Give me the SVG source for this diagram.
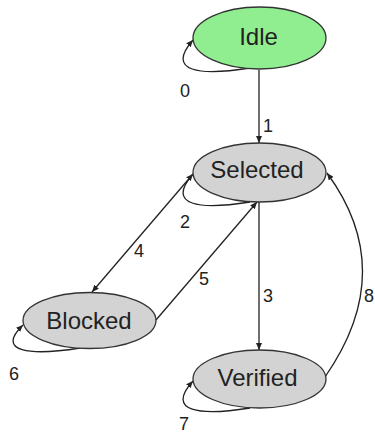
<svg xmlns="http://www.w3.org/2000/svg" width="375" height="434" viewBox="0 0 375 434">
<defs>
<style>
.node ellipse{stroke:#333;stroke-width:1.3}
.node text{font-family:"Liberation Sans",Arial,sans-serif;font-size:24px;fill:#222;text-anchor:middle}
.edge{fill:none;stroke:#222;stroke-width:1.3;marker-end:url(#arr)}
.lbl{font-family:"Liberation Sans",Arial,sans-serif;font-size:18px;fill:#222}
</style>
<marker id="arr" markerUnits="userSpaceOnUse" markerWidth="7" markerHeight="6" refX="7" refY="3" orient="auto">
<path d="M0,0 L7,3 L0,6 z" fill="#222"/>
</marker>
</defs>
<rect width="375" height="434" fill="#fff"/>
<g id="connectors">
<path class="edge" d="M250,68 C200,76 165,72 193,40"/>
<path class="edge" d="M259,70 L259,143"/>
<path class="edge" d="M250,202 C200,210 165,206 193,174"/>
<path class="edge" d="M193,174 L92,292"/>
<path class="edge" d="M156,320 L257,202"/>
<path class="edge" d="M259,202 L259,350"/>
<path class="edge" d="M80,348 C30,356 -5,352 23,325"/>
<path class="edge" d="M250,408 C200,416 165,412 193,381"/>
<path class="edge" d="M325,377 Q399,271 327,173"/>
<text class="lbl" x="180" y="97">0</text>
<text class="lbl" x="263" y="132">1</text>
<text class="lbl" x="180" y="228">2</text>
<text class="lbl" x="134" y="257">4</text>
<text class="lbl" x="199" y="285">5</text>
<text class="lbl" x="263" y="302">3</text>
<text class="lbl" x="364" y="302">8</text>
<text class="lbl" x="9" y="380">6</text>
<text class="lbl" x="179" y="430">7</text>
</g>
<g id="idle" class="node"><ellipse cx="259.5" cy="38" rx="66.5" ry="31" fill="#90ee90"/><text x="258.5" y="45">Idle</text></g>
<g id="selected" class="node"><ellipse cx="259.5" cy="172.5" rx="66.5" ry="29.5" fill="#d3d3d3"/><text x="257" y="178">Selected</text></g>
<g id="blocked" class="node"><ellipse cx="89.5" cy="320.5" rx="66.5" ry="28" fill="#d3d3d3"/><text x="89" y="329">Blocked</text></g>
<g id="verified" class="node"><ellipse cx="259.5" cy="379" rx="66.5" ry="29" fill="#d3d3d3"/><text x="257.5" y="386">Verified</text></g>
</svg>
